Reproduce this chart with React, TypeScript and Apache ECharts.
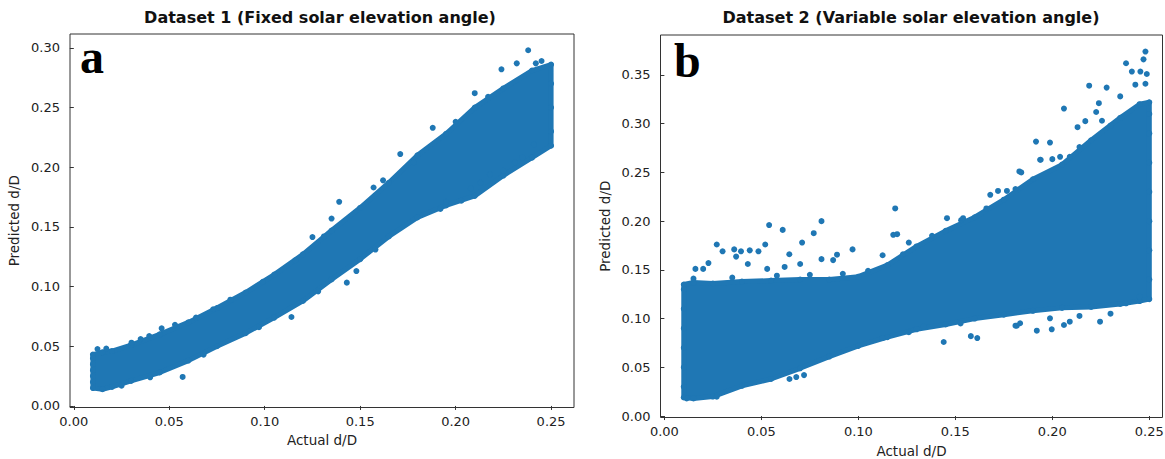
import React, { useEffect, useRef } from "react";
import * as echarts from "echarts";

const BLUE = "#1f77b4";

// Panel a: envelope of the dense point cloud
const LEFT_X = [0.010, 0.015, 0.020, 0.030, 0.045, 0.060, 0.075, 0.090, 0.105, 0.120, 0.135, 0.150, 0.165, 0.180, 0.195, 0.210, 0.225, 0.240, 0.250];
const LEFT_UPPER = [0.043, 0.045, 0.046, 0.051, 0.060, 0.070, 0.082, 0.095, 0.110, 0.127, 0.147, 0.166, 0.187, 0.210, 0.228, 0.250, 0.266, 0.281, 0.286];
const LEFT_LOWER = [0.015, 0.014, 0.016, 0.021, 0.028, 0.038, 0.050, 0.061, 0.074, 0.088, 0.106, 0.123, 0.142, 0.158, 0.168, 0.176, 0.193, 0.208, 0.218];
// Panel a: isolated points and edge points
const LEFT_POINTS: [number, number][] = [
  [0.0124, 0.0477], [0.057, 0.0243], [0.114, 0.0745], [0.053, 0.068], [0.046, 0.065], [0.035, 0.056],
  [0.030, 0.051], [0.073, 0.081], [0.188, 0.233], [0.171, 0.211], [0.139, 0.171], [0.135, 0.157],
  [0.125, 0.1415], [0.143, 0.1033], [0.148, 0.113], [0.162, 0.189], [0.157, 0.183], [0.238, 0.298],
  [0.232, 0.287], [0.242, 0.287], [0.224, 0.282], [0.210, 0.262], [0.241, 0.219], [0.235, 0.208],
  [0.231, 0.204], [0.225, 0.197], [0.218, 0.194], [0.213, 0.187], [0.208, 0.182], [0.203, 0.172],
  [0.195, 0.171], [0.192, 0.165], [0.245, 0.289],
  [0.017, 0.048], [0.0302, 0.053], [0.0395, 0.0586], [0.064, 0.074], [0.082, 0.089], [0.099, 0.104],
  [0.116, 0.122], [0.131, 0.142], [0.178, 0.204], [0.200, 0.238], [0.217, 0.259],
  [0.025, 0.017], [0.040, 0.024], [0.068, 0.043], [0.097, 0.066], [0.128, 0.096], [0.158, 0.131],
  [0.010, 0.020], [0.010, 0.025], [0.010, 0.030], [0.010, 0.035], [0.010, 0.040],
  [0.250, 0.230], [0.250, 0.250], [0.250, 0.270],
];

// Panel b: envelope of the dense point cloud
const RIGHT_X = [0.010, 0.015, 0.025, 0.040, 0.055, 0.070, 0.085, 0.100, 0.115, 0.130, 0.145, 0.160, 0.175, 0.190, 0.205, 0.220, 0.235, 0.245, 0.250];
const RIGHT_UPPER = [0.135, 0.137, 0.136, 0.138, 0.139, 0.140, 0.140, 0.143, 0.155, 0.174, 0.190, 0.204, 0.222, 0.243, 0.258, 0.283, 0.306, 0.320, 0.322];
const RIGHT_LOWER = [0.019, 0.018, 0.020, 0.031, 0.038, 0.049, 0.061, 0.072, 0.081, 0.089, 0.094, 0.100, 0.104, 0.108, 0.111, 0.112, 0.115, 0.118, 0.120];
// Panel b: isolated points and edge points
const RIGHT_POINTS: [number, number][] = [
  [0.027, 0.176], [0.030, 0.169], [0.016, 0.151], [0.020, 0.151], [0.0227, 0.157], [0.036, 0.171],
  [0.037, 0.1636], [0.0395, 0.169], [0.044, 0.170], [0.0485, 0.169], [0.052, 0.176], [0.054, 0.196],
  [0.061, 0.191], [0.0644, 0.166], [0.071, 0.178], [0.077, 0.1876], [0.081, 0.200], [0.081, 0.161],
  [0.087, 0.160], [0.089, 0.1656], [0.097, 0.171], [0.043, 0.156], [0.053, 0.151], [0.070, 0.156],
  [0.062, 0.153], [0.119, 0.213], [0.118, 0.186], [0.120, 0.1866], [0.1125, 0.165], [0.123, 0.166],
  [0.126, 0.178], [0.1457, 0.203], [0.153, 0.201], [0.154, 0.203], [0.168, 0.227], [0.1766, 0.231],
  [0.172, 0.231], [0.183, 0.251], [0.194, 0.263], [0.200, 0.2636], [0.248, 0.374], [0.247, 0.366],
  [0.238, 0.362], [0.2454, 0.3535], [0.241, 0.3535], [0.2487, 0.351], [0.248, 0.341], [0.2428, 0.340],
  [0.219, 0.339], [0.228, 0.337], [0.206, 0.3155], [0.224, 0.321], [0.2226, 0.312], [0.235, 0.328],
  [0.217, 0.3026], [0.2256, 0.303], [0.213, 0.2964], [0.1916, 0.2816], [0.1988, 0.2806], [0.1937, 0.263],
  [0.184, 0.250], [0.204, 0.266], [0.209, 0.266],
  [0.015, 0.141], [0.035, 0.142], [0.058, 0.144], [0.075, 0.145], [0.092, 0.146], [0.105, 0.149],
  [0.138, 0.185], [0.166, 0.213], [0.181, 0.233], [0.214, 0.276], [0.230, 0.298],
  [0.1125, 0.080], [0.126, 0.086], [0.068, 0.040], [0.072, 0.042], [0.0645, 0.038], [0.0115, 0.018],
  [0.027, 0.0198], [0.144, 0.076], [0.158, 0.082], [0.1613, 0.080], [0.1817, 0.0927], [0.192, 0.0876],
  [0.1997, 0.089], [0.1336, 0.0917], [0.1527, 0.095], [0.230, 0.105], [0.2246, 0.0968], [0.214, 0.1027],
  [0.209, 0.0968], [0.206, 0.0934], [0.1988, 0.1003], [0.1834, 0.0952], [0.181, 0.0927], [0.238, 0.1157],
  [0.245, 0.1225],
  [0.010, 0.030], [0.010, 0.050], [0.010, 0.070], [0.010, 0.090], [0.010, 0.110], [0.010, 0.130],
  [0.250, 0.140], [0.250, 0.170], [0.250, 0.200], [0.250, 0.230], [0.250, 0.260], [0.250, 0.290], [0.250, 0.310],
];

const X_TICKS = [0, 0.05, 0.1, 0.15, 0.2, 0.25];
const LEFT_Y_TICKS = [0, 0.05, 0.1, 0.15, 0.2, 0.25, 0.3];
const RIGHT_Y_TICKS = [0, 0.05, 0.1, 0.15, 0.2, 0.25, 0.3, 0.35];

const TITLE_A = "Dataset 1 (Fixed solar elevation angle)";
const TITLE_B = "Dataset 2 (Variable solar elevation angle)";
const X_NAME = "Actual d/D";
const Y_NAME = "Predicted d/D";

const TICK_FONT = { fontFamily: "DejaVu Sans", fontSize: 13, color: "#222" };
const NAME_FONT = { fontFamily: "DejaVu Sans", fontSize: 13.5, color: "#222" };

function xAxisCfg(gridIndex: number, max: number, gap: number) {
  return {
    type: "value" as const,
    gridIndex,
    min: -0.002,
    max,
    name: X_NAME,
    nameLocation: "middle" as const,
    nameGap: gap,
    nameTextStyle: NAME_FONT,
    splitLine: { show: false },
    axisLine: { show: false },
    axisTick: { show: true, inside: false, length: 4, customValues: X_TICKS, lineStyle: { color: "#333" } },
    axisLabel: { ...TICK_FONT, margin: 7, customValues: X_TICKS, formatter: (v: number) => v.toFixed(2) },
  };
}

function yAxisCfg(gridIndex: number, min: number, max: number, ticks: number[], gap: number) {
  return {
    type: "value" as const,
    gridIndex,
    min,
    max,
    name: Y_NAME,
    nameLocation: "middle" as const,
    nameGap: gap,
    nameTextStyle: NAME_FONT,
    splitLine: { show: false },
    axisLine: { show: false },
    axisTick: { show: true, inside: false, length: 4, customValues: ticks, lineStyle: { color: "#333" } },
    axisLabel: { ...TICK_FONT, margin: 10, customValues: ticks, formatter: (v: number) => v.toFixed(2) },
  };
}

function cloudSeries(idx: number, xs: number[], upper: number[], lower: number[], pts: [number, number][]) {
  const edge: [number, number][] = [];
  xs.forEach((x, i) => {
    edge.push([x, upper[i]]);
    edge.push([x, lower[i]]);
  });
  return [
    {
      type: "custom", xAxisIndex: idx, yAxisIndex: idx, silent: true, clip: true,
      data: [[xs[0], lower[0]]],
      renderItem: (_params: any, api: any) => {
        const top = xs.map((x, i) => api.coord([x, upper[i]]));
        const bottom = xs.map((x, i) => api.coord([x, lower[i]])).reverse();
        return {
          type: "polygon",
          shape: { points: top.concat(bottom) },
          style: { fill: BLUE, stroke: BLUE, lineWidth: 5, lineJoin: "round" },
        };
      },
    },
    {
      type: "scatter", xAxisIndex: idx, yAxisIndex: idx, silent: true,
      data: edge.concat(pts),
      symbolSize: 6,
      itemStyle: { color: BLUE, opacity: 1 },
    },
  ];
}

export default function App() {
  const ref = useRef<HTMLDivElement>(null);
  useEffect(() => {
    if (!ref.current) return;
    const chart = echarts.init(ref.current, null, { renderer: "svg" });
    chart.setOption({
      animation: false,
      backgroundColor: "#ffffff",
      grid: [
        { left: 70, top: 34, width: 504, height: 373.5, show: true, borderColor: "#333", borderWidth: 1, backgroundColor: "transparent", outerBoundsMode: "none", containLabel: false },
        { left: 660.5, top: 35, width: 502, height: 382.5, show: true, borderColor: "#333", borderWidth: 1, backgroundColor: "transparent", outerBoundsMode: "none", containLabel: false },
      ],
      xAxis: [xAxisCfg(0, 0.262, 25), xAxisCfg(1, 0.2568, 26)],
      yAxis: [
        yAxisCfg(0, -0.0013, 0.3116, LEFT_Y_TICKS, 49),
        yAxisCfg(1, -0.0015, 0.391, RIGHT_Y_TICKS, 49),
      ],
      series: [
        ...cloudSeries(0, LEFT_X, LEFT_UPPER, LEFT_LOWER, LEFT_POINTS),
        ...cloudSeries(1, RIGHT_X, RIGHT_UPPER, RIGHT_LOWER, RIGHT_POINTS),
      ],
      graphic: [
        { type: "text", x: 320, y: 17, style: { text: TITLE_A, fontFamily: "DejaVu Sans", fontWeight: "bold", fontSize: 16, fill: "#111", align: "center", verticalAlign: "middle" } },
        { type: "text", x: 911, y: 17, style: { text: TITLE_B, fontFamily: "DejaVu Sans", fontWeight: "bold", fontSize: 16, fill: "#111", align: "center", verticalAlign: "middle" } },
        { type: "text", x: 80, y: 56, style: { text: "a", fontFamily: "Liberation Serif", fontWeight: "bold", fontSize: 48, fill: "#000", align: "left", verticalAlign: "middle" } },
        { type: "text", x: 674, y: 60, style: { text: "b", fontFamily: "Liberation Serif", fontWeight: "bold", fontSize: 48, fill: "#000", align: "left", verticalAlign: "middle" } },
      ],
    });
    return () => chart.dispose();
  }, []);
  return <div ref={ref} style={{ position: "fixed", left: 0, top: 0, width: 1165, height: 459 }} />;
}
